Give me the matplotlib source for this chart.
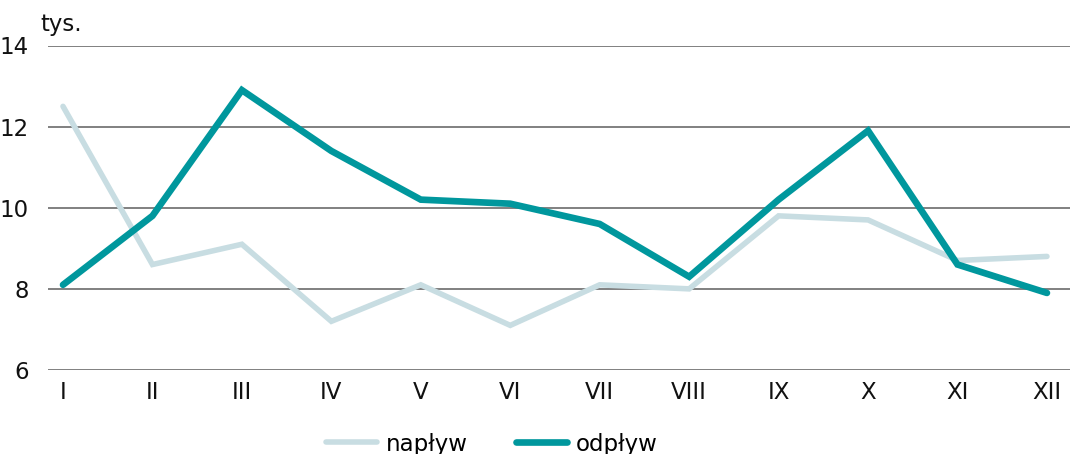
import numpy as np
import matplotlib
matplotlib.use('Agg')
import matplotlib.pyplot as plt

# months and values (thousands)
months = ['I', 'II', 'III', 'IV', 'V', 'VI', 'VII', 'VIII', 'IX', 'X', 'XI', 'XII']
naplyw = [12.5, 8.6, 9.1, 7.2, 8.1, 7.1, 8.1, 8.0, 9.8, 9.7, 8.7, 8.8]
odplyw = [8.1, 9.8, 12.9, 11.4, 10.2, 10.1, 9.6, 8.3, 10.2, 11.9, 8.6, 7.9]
y_ticks = [6, 8, 10, 12, 14]

plt.rcParams['font.family'] = ['Liberation Sans Narrow', 'DejaVu Sans Condensed', 'DejaVu Sans']

fig = plt.figure(figsize=(10.7, 4.54), dpi=100)
ax = fig.add_axes([48 / 1070, 84 / 454, 1 - 48 / 1070, (370 - 45.5) / 454])

x = np.arange(len(months))
ax.plot(x, naplyw, color='#c8dde2', lw=4.0, solid_capstyle='round', solid_joinstyle='miter', label='napływ', zorder=3)
ax.plot(x, odplyw, color='#00979d', lw=4.8, solid_capstyle='round', solid_joinstyle='miter', label='odpływ', zorder=4)

ax.set_ylim(6, 14)
ax.set_xlim(-15 / 89.45, (1070 - 63) / 89.45)
ax.set_yticks(y_ticks)
ax.set_xticks(x)
ax.set_xticklabels(months)
ax.grid(axis='y', color='#5e5e5e', lw=1.1, zorder=1)
ax.tick_params(length=0, labelsize=16.5, colors='#111111')
ax.tick_params(axis='y', pad=14)
ax.tick_params(axis='x', pad=8)
for s in ax.spines.values():
    s.set_visible(False)

fig.text(40 / 1070, 1 - 24 / 454, 'tys.', fontsize=16.5, va='center', ha='left', color='#111111')

fig.legend(loc='center', bbox_to_anchor=(492 / 1070, 10 / 454), ncol=2, frameon=False,
           fontsize=16.5, handlelength=2.2, handletextpad=0.4, columnspacing=2.1)

plt.savefig('out.png', dpi=100)
